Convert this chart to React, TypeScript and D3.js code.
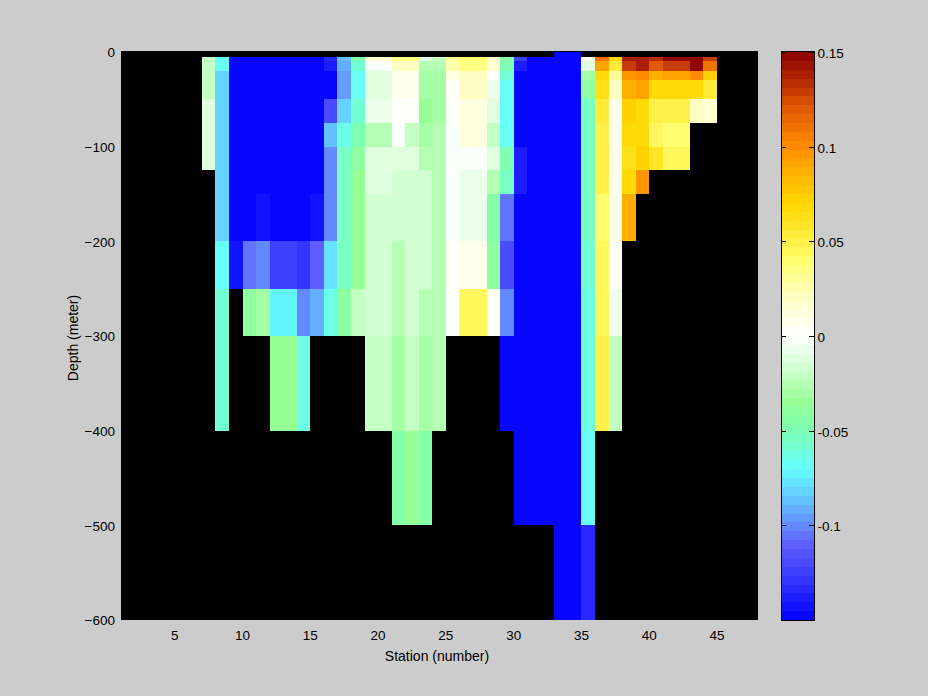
import { useEffect, useRef } from 'react';
import * as d3 from 'd3';

const WIDTH = 928;
const HEIGHT = 696;
const FONT = '"Liberation Sans", Arial, sans-serif';

// depth cell edges in metres, station cells span s..s+1
const depthEdges = [0, 5, 10, 20, 30, 50, 75, 100, 125, 150, 200, 250, 300, 400, 500, 600];
const firstStation = 7;
const xTicks = [5, 10, 15, 20, 25, 30, 35, 40, 45];
const yTicks = [0, -100, -200, -300, -400, -500, -600];
const cbarTicks = [0.15, 0.1, 0.05, 0, -0.05, -0.1];

const _ = null;
// one list per station (7..44), one entry per depth cell
const stationValues: (number | null)[][] = [
  [_, -.023, -.023, -.023, -.023, -.014, -.014, -.014],
  [_, -.07, -.07, -.08, -.08, -.08, -.08, -.08, -.08, -.08, -.07, -.058, -.058],
  [_, -.15, -.15, -.15, -.15, -.15, -.15, -.15, -.15, -.15, -.145],
  [_, -.15, -.15, -.15, -.15, -.15, -.15, -.15, -.15, -.15, -.105, -.042],
  [_, -.15, -.15, -.15, -.15, -.15, -.15, -.15, -.15, -.145, -.1, -.032],
  [_, -.15, -.15, -.15, -.15, -.15, -.15, -.15, -.15, -.15, -.122, -.072, -.036],
  [_, -.15, -.15, -.15, -.15, -.15, -.15, -.15, -.15, -.15, -.122, -.072, -.036],
  [_, -.15, -.15, -.15, -.15, -.15, -.15, -.15, -.15, -.15, -.13, -.1, -.062],
  [_, -.15, -.15, -.15, -.15, -.15, -.15, -.15, -.15, -.145, -.112, -.09],
  [_, -.135, -.14, -.15, -.15, -.12, -.088, -.1, -.1, -.1, -.078, -.062],
  [_, -.085, -.09, -.097, -.097, -.08, -.065, -.055, -.055, -.055, -.055, -.04],
  [_, -.05, -.058, -.066, -.068, -.058, -.05, -.042, -.034, -.034, -.034, -.022],
  [_, .018, -.003, -.012, -.012, -.008, -.025, -.013, -.013, -.018, -.018, -.016, -.023],
  [_, .018, -.003, -.012, -.012, -.008, -.025, -.013, -.013, -.018, -.018, -.016, -.023],
  [_, .035, .02, .008, .008, .004, -.002, -.011, -.018, -.018, -.024, -.028, -.031, -.045],
  [_, .035, .02, .008, .008, .004, -.02, -.011, -.016, -.018, -.018, -.016, -.022, -.035],
  [_, -.011, -.026, -.032, -.029, -.036, -.029, -.026, -.018, -.018, -.018, -.025, -.029, -.045],
  [_, -.02, -.026, -.032, -.032, -.029, -.025, -.025, -.025, -.025, -.025, -.025, -.025],
  [_, .03, .027, .01, .002, .002, -.002, -.002, -.002, -.002, .002, .003],
  [_, .04, .034, .02, .02, .01, .01, -.002, -.008, -.008, .008, .045],
  [_, .04, .034, .02, .02, .01, .01, -.002, -.008, -.008, .008, .045],
  [_, .018, .018, -.004, -.008, -.013, -.02, -.012, -.028, -.045, -.042, .002],
  [_, -.045, -.047, -.058, -.066, -.07, -.07, -.05, -.056, -.104, -.12, -.102, -.15],
  [_, -.122, -.14, -.15, -.15, -.15, -.15, -.14, -.14, -.15, -.15, -.15, -.15, -.15],
  [_, -.15, -.15, -.15, -.15, -.15, -.15, -.15, -.15, -.15, -.15, -.15, -.15, -.15],
  [_, -.15, -.15, -.15, -.15, -.15, -.15, -.15, -.15, -.15, -.15, -.15, -.15, -.15],
  [-.15, -.15, -.15, -.15, -.15, -.15, -.15, -.15, -.15, -.15, -.15, -.15, -.15, -.15, -.15],
  [-.15, -.15, -.15, -.15, -.15, -.15, -.15, -.15, -.15, -.15, -.15, -.15, -.15, -.15, -.15],
  [_, .007, -.01, -.032, -.04, -.052, -.052, -.054, -.054, -.056, -.057, -.062, -.062, -.07, -.133],
  [_, .108, .092, .07, .063, .055, .05, .047, .047, .04, .045, .045, .05],
  [_, .067, .053, .03, .02, .006, .006, .006, .006, .008, .004, -.009, -.02],
  [_, .14, .128, .098, .085, .074, .07, .062, .069, .085],
  [_, .14, .137, .102, .09, .07, .066, .074, .097],
  [_, .135, .12, .085, .067, .05, .045, .058],
  [_, .147, .13, .09, .068, .05, .04, .045],
  [_, .147, .13, .09, .068, .05, .04, .045],
  [_, .147, .147, .1, .07, .02],
  [_, .13, .11, .074, .055, .018],
];

// hand read colormap stops of the picture's colour bar
const cmapStops = [-.15, -.13, -.11, -.1, -.085, -.07, -.05, -.035, -.02, 0, .02, .04, .05, .07, .085, .1, .12, .135, .15];
const cmapColors = ['#0000ff', '#3232ff', '#5f5fff', '#648cff', '#64c8ff', '#64ffff', '#7dffb4', '#96ff96', '#c8ffc8', '#ffffff',
  '#ffffc8', '#ffff6e', '#fff046', '#ffd700', '#ffb400', '#ff8c00', '#e15a00', '#b42800', '#8b0000'];
const LEVELS = 64;

export default function App() {
  const svgRef = useRef<SVGSVGElement>(null);

  useEffect(() => {
    if (!svgRef.current) return;
    const svg = d3.select(svgRef.current);
    svg.selectAll('*').remove();

    const x = d3.scaleLinear().domain([1, 48]).range([120.6, 757.6]);
    const y = d3.scaleLinear().domain([-600, 0]).range([620, 52]);
    const cbarY = d3.scaleLinear().domain([-0.15, 0.15]).range([620, 52]);

    const ramp = d3.scaleLinear<string>().domain(cmapStops).range(cmapColors).interpolate(d3.interpolateRgb);
    const levelOf = (v: number) => Math.min(LEVELS - 1, Math.floor(((v + 0.15) / 0.3) * LEVELS));
    const levelMid = (i: number) => -0.15 + ((i + 0.5) / LEVELS) * 0.3;
    const color = (v: number) => ramp(levelMid(levelOf(v)));

    svg.append('rect').attr('width', WIDTH).attr('height', HEIGHT).attr('fill', '#cccccc');
    svg.append('rect').attr('x', 121).attr('y', 51).attr('width', 637).attr('height', 569).attr('fill', '#000');

    const cells = stationValues.flatMap((col, i) =>
      col.map((v, r) => ({ station: firstStation + i, r, v })).filter(d => d.v !== null));

    svg.append('g').attr('shape-rendering', 'crispEdges')
      .selectAll('rect').data(cells).join('rect')
      .attr('x', d => Math.round(x(d.station)))
      .attr('width', d => Math.round(x(d.station + 1)) - Math.round(x(d.station)))
      .attr('y', d => Math.round(y(-depthEdges[d.r])))
      .attr('height', d => Math.round(y(-depthEdges[d.r + 1])) - Math.round(y(-depthEdges[d.r])))
      .attr('fill', d => color(d.v as number));

    const text = (g: d3.Selection<any, any, any, any>) =>
      g.selectAll('text').attr('font-family', FONT).attr('font-size', 13.5).attr('fill', '#000');

    const xAxis = svg.append('g').attr('transform', 'translate(-0.5,620)')
      .call(d3.axisBottom(x).tickValues(xTicks).tickSize(0).tickPadding(10).tickFormat(d3.format('d') as any));
    xAxis.select('.domain').remove();
    text(xAxis);

    const yAxis = svg.append('g').attr('transform', 'translate(121,0.5)')
      .call(d3.axisLeft(y).tickValues(yTicks).tickSize(0).tickPadding(6).tickFormat(d3.format('d') as any));
    yAxis.select('.domain').remove();
    text(yAxis);

    svg.append('text').attr('x', 437).attr('y', 661).attr('text-anchor', 'middle')
      .attr('font-family', FONT).attr('font-size', 14).attr('fill', '#000').text('Station (number)');
    svg.append('text').attr('transform', 'translate(78,338) rotate(-90)').attr('text-anchor', 'middle')
      .attr('font-family', FONT).attr('font-size', 14).attr('fill', '#000').text('Depth (meter)');

    // colour bar
    const bar = svg.append('g').attr('shape-rendering', 'crispEdges');
    bar.selectAll('rect').data(d3.range(LEVELS)).join('rect')
      .attr('x', 781).attr('width', 33)
      .attr('y', i => Math.round(cbarY(levelMid(i) + 0.15 / LEVELS)))
      .attr('height', i => Math.round(cbarY(levelMid(i) - 0.15 / LEVELS)) - Math.round(cbarY(levelMid(i) + 0.15 / LEVELS)))
      .attr('fill', i => ramp(levelMid(i)));
    bar.append('rect').attr('x', 781.5).attr('y', 51.5).attr('width', 33).attr('height', 569)
      .attr('fill', 'none').attr('stroke', '#000');

    const barTicks = bar.append('g').selectAll('g').data(cbarTicks).join('g');
    barTicks.append('line').attr('x1', 781).attr('x2', 786)
      .attr('y1', d => Math.round(cbarY(d)) + 0.5).attr('y2', d => Math.round(cbarY(d)) + 0.5).attr('stroke', '#000');
    barTicks.append('line').attr('x1', 809).attr('x2', 814)
      .attr('y1', d => Math.round(cbarY(d)) + 0.5).attr('y2', d => Math.round(cbarY(d)) + 0.5).attr('stroke', '#000');

    svg.append('g').selectAll('text').data(cbarTicks).join('text')
      .attr('x', 817.5).attr('y', d => cbarY(d) + 6)
      .attr('font-family', FONT).attr('font-size', 13.5).attr('fill', '#000')
      .text(d => String(d));
  }, []);

  return (
    <svg ref={svgRef} width={WIDTH} height={HEIGHT}
      style={{ position: 'absolute', left: 0, top: 0, display: 'block' }} />
  );
}
